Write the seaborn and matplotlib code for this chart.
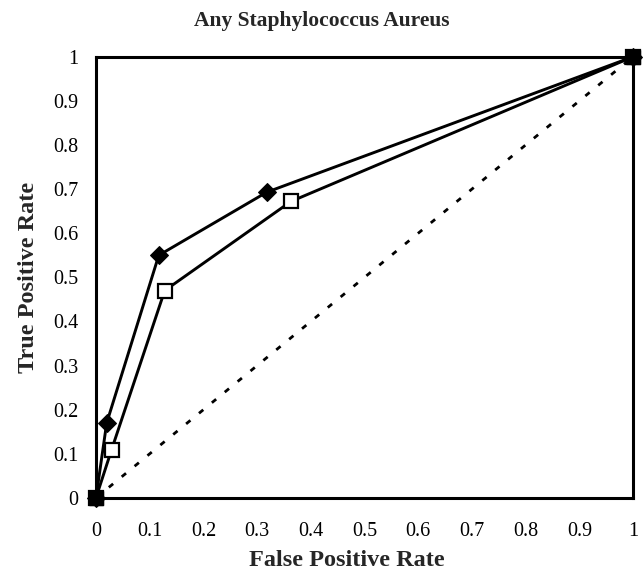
import matplotlib
matplotlib.use("Agg")
import matplotlib.pyplot as plt
import seaborn as sns
import pandas as pd

# Data
fpr_diamond = [0, 0.02, 0.117, 0.318, 1]
tpr_diamond = [0, 0.17, 0.55, 0.693, 1]
fpr_square = [0, 0.029, 0.128, 0.363, 1]
tpr_square = [0, 0.109, 0.47, 0.672, 1]
diag_x = [0, 1]
diag_y = [0, 1]
tick_vals = [0, 0.1, 0.2, 0.3, 0.4, 0.5, 0.6, 0.7, 0.8, 0.9, 1]
tick_labels = ["0", "0.1", "0.2", "0.3", "0.4", "0.5", "0.6", "0.7", "0.8", "0.9", "1"]

sns.set_style("white")
plt.rcParams['font.family'] = ['Liberation Serif', 'DejaVu Serif']

fig = plt.figure(figsize=(6.44, 5.79), dpi=100)
ax = fig.add_axes([0.149, 0.140, 0.834, 0.762])

df_d = pd.DataFrame({"x": fpr_diamond, "y": tpr_diamond})
df_s = pd.DataFrame({"x": fpr_square, "y": tpr_square})
df_g = pd.DataFrame({"x": diag_x, "y": diag_y})

sns.lineplot(data=df_d, x="x", y="y", sort=False, ax=ax, color="black",
             linewidth=2.1, marker="D", markersize=9.5, markerfacecolor="black",
             markeredgecolor="black", estimator=None, zorder=3)
sns.lineplot(data=df_s, x="x", y="y", sort=False, ax=ax, color="black",
             linewidth=2.1, marker="s", markersize=9.5, markerfacecolor="white",
             markeredgecolor="black", markeredgewidth=1.6, estimator=None, zorder=4)
sns.lineplot(data=df_g, x="x", y="y", sort=False, ax=ax, color="black",
             linewidth=2.0, dashes=False, estimator=None, zorder=2)
line = ax.lines[-1]
line.set_dashes((2, 4))
line.set_dash_capstyle("butt")
ax.plot(diag_x, diag_y, linestyle="none", marker="s", markersize=10.5,
        color="black", zorder=6, clip_on=False)

ax.set_xlim(0, 1)
ax.set_ylim(0, 1)
ax.set_xticks(tick_vals)
ax.set_xticklabels(tick_labels)
ax.set_yticks(tick_vals)
ax.set_yticklabels(tick_labels)
ax.tick_params(axis="both", direction="inout", length=7, width=1, colors="black",
               labelsize=14.5)
ax.tick_params(axis="x", pad=14)
ax.tick_params(axis="y", pad=9)

for side in ["left", "bottom", "top", "right"]:
    ax.spines[side].set_visible(True)
    ax.spines[side].set_color("black")
    ax.spines[side].set_linewidth(2.2)

ax.set_xlabel("False Positive Rate", fontsize=17.5, fontweight="bold", labelpad=6)
ax.xaxis.label.set_x(0.467)
ax.set_ylabel("True Positive Rate", fontsize=17.5, fontweight="bold", labelpad=10)
ax.set_title("Any Staphylococcus Aureus", fontsize=15.5, fontweight="bold", pad=22)
ax.title.set_x(0.421)

for l in ax.lines:
    l.set_clip_on(False)

fig.savefig("out.png", dpi=100)
